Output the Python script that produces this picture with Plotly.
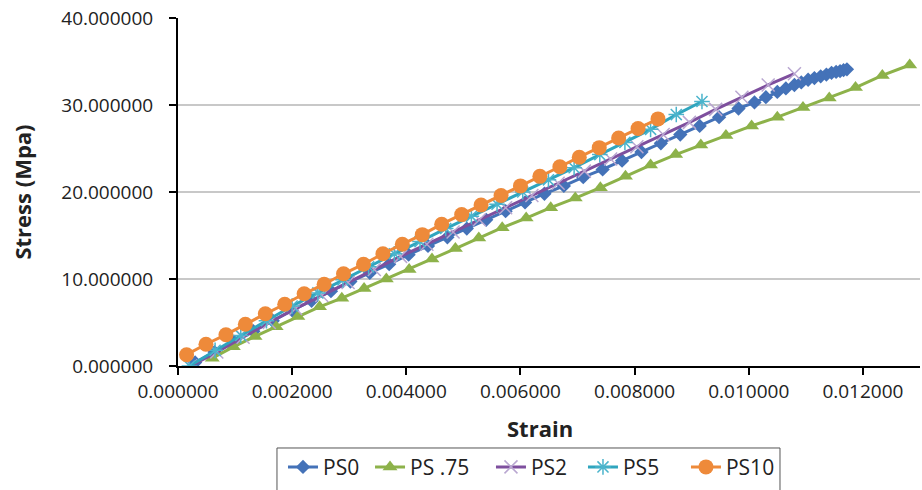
import plotly.graph_objects as go

# ---- data ----
ps0_strain = [0.00030, 0.00064, 0.00098, 0.00132, 0.00166, 0.00200, 0.00234, 0.00268, 0.00302, 0.00336,
              0.00370, 0.00404, 0.00438, 0.00472, 0.00506, 0.00540, 0.00574, 0.00608, 0.00642, 0.00676,
              0.00710, 0.00744, 0.00778, 0.00812, 0.00846, 0.00880, 0.00914, 0.00948, 0.00982, 0.01010,
              0.01030, 0.01050, 0.01065, 0.01080, 0.01092, 0.01104, 0.01115, 0.01126, 0.01136, 0.01145,
              0.01153, 0.01160, 0.01166, 0.01172]
ps0_stress = [0.4, 1.6, 2.8, 4.0, 5.2, 6.4, 7.5, 8.6, 9.7, 10.7,
              11.7, 12.8, 13.8, 14.8, 15.8, 16.8, 17.8, 18.8, 19.8, 20.7,
              21.7, 22.6, 23.6, 24.6, 25.6, 26.6, 27.6, 28.6, 29.6, 30.3,
              30.9, 31.5, 31.9, 32.3, 32.6, 32.9, 33.1, 33.3, 33.5, 33.7,
              33.8, 33.9, 34.0, 34.1]

ps075_strain = [0.00060, 0.00097, 0.00135, 0.00172, 0.00210, 0.00248, 0.00287, 0.00326, 0.00365, 0.00405,
                0.00445, 0.00486, 0.00527, 0.00568, 0.00610, 0.00653, 0.00696, 0.00740, 0.00784, 0.00828,
                0.00872, 0.00916, 0.00960, 0.01005, 0.01050, 0.01095, 0.01141, 0.01187, 0.01234, 0.01282]
ps075_stress = [0.9, 2.2, 3.4, 4.5, 5.7, 6.8, 7.8, 8.9, 10.0, 11.1,
                12.3, 13.5, 14.7, 15.9, 17.0, 18.2, 19.3, 20.5, 21.8, 23.1,
                24.3, 25.4, 26.5, 27.6, 28.6, 29.7, 30.8, 32.0, 33.4, 34.6]

ps2_strain = [0.00022, 0.00068, 0.00114, 0.00160, 0.00206, 0.00252, 0.00298, 0.00344, 0.00390, 0.00436,
              0.00482, 0.00528, 0.00574, 0.00620, 0.00666, 0.00712, 0.00758, 0.00804, 0.00850, 0.00896,
              0.00942, 0.00988, 0.01034, 0.01080]
ps2_stress = [0.0, 1.6, 3.3, 5.0, 6.6, 8.1, 9.6, 11.1, 12.6, 14.0,
              15.4, 16.8, 18.2, 19.6, 21.0, 22.4, 23.8, 25.2, 26.6, 28.0,
              29.5, 30.9, 32.3, 33.6]

ps5_strain = [0.00020, 0.00065, 0.00110, 0.00155, 0.00200, 0.00245, 0.00289, 0.00334, 0.00379, 0.00424,
              0.00469, 0.00514, 0.00559, 0.00604, 0.00649, 0.00694, 0.00739, 0.00783, 0.00828, 0.00873,
              0.00918]
ps5_stress = [0.0, 1.8, 3.5, 5.2, 6.9, 8.4, 9.9, 11.4, 12.9, 14.3,
              15.8, 17.2, 18.6, 20.0, 21.4, 22.8, 24.3, 25.7, 27.2, 28.9,
              30.4]

ps10_strain = [0.00015, 0.00049, 0.00084, 0.00118, 0.00153, 0.00187, 0.00221, 0.00256, 0.00290, 0.00325,
               0.00359, 0.00393, 0.00428, 0.00462, 0.00497, 0.00531, 0.00566, 0.00600, 0.00634, 0.00669,
               0.00703, 0.00738, 0.00772, 0.00806, 0.00841]
ps10_stress = [1.3, 2.5, 3.6, 4.8, 6.0, 7.1, 8.3, 9.4, 10.6, 11.7,
               12.9, 14.0, 15.1, 16.3, 17.4, 18.5, 19.6, 20.7, 21.8, 22.9,
               24.0, 25.1, 26.2, 27.3, 28.4]

x_ticks = [0.0, 0.002, 0.004, 0.006, 0.008, 0.010, 0.012]
y_ticks = [0, 10, 20, 30, 40]

FONT = "Open Sans"

fig = go.Figure()
fig.add_trace(go.Scatter(x=ps0_strain, y=ps0_stress, name="PS0", mode="lines+markers",
                         legend="legend",
                         line=dict(color="#4472B8", width=3),
                         marker=dict(symbol="diamond", size=11, color="#4472B8")))
fig.add_trace(go.Scatter(x=ps075_strain, y=ps075_stress, name="PS .75", mode="lines+markers",
                         legend="legend2",
                         line=dict(color="#8DB24A", width=3),
                         marker=dict(symbol="triangle-up", size=13, color="#8DB24A")))
fig.add_trace(go.Scatter(x=ps2_strain, y=ps2_stress, name="PS2", mode="lines+markers",
                         legend="legend3",
                         line=dict(color="#7E4F9E", width=3),
                         marker=dict(symbol="x-thin-open", size=13, color="#B9A7D1",
                                     line=dict(width=1.5, color="#B9A7D1"))))
fig.add_trace(go.Scatter(x=ps5_strain, y=ps5_stress, name="PS5", mode="lines+markers",
                         legend="legend4",
                         line=dict(color="#2FA5BE", width=3),
                         marker=dict(symbol="asterisk-open", size=13, color="#4BB4CC",
                                     line=dict(width=1.5, color="#4BB4CC"))))
fig.add_trace(go.Scatter(x=ps10_strain, y=ps10_stress, name="PS10", mode="lines+markers",
                         legend="legend5",
                         line=dict(color="#EE8A3A", width=3),
                         marker=dict(symbol="circle", size=15, color="#EE8A3A")))

def leg(xpos):
    return dict(orientation="h", x=xpos, xanchor="left", y=-0.232, yanchor="top",
                borderwidth=0, bgcolor="rgba(0,0,0,0)",
                font=dict(size=21, color="#222"), itemwidth=30)

fig.update_layout(
    width=922, height=490,
    margin=dict(l=178, r=2, t=18, b=124),
    paper_bgcolor="white", plot_bgcolor="white",
    font=dict(family=FONT, size=19, color="#222"),
    legend=leg(0.1415), legend2=leg(0.2588), legend3=leg(0.4218),
    legend4=leg(0.5458), legend5=leg(0.6846),
    showlegend=True,
    shapes=[dict(type="rect", xref="paper", yref="paper", x0=0.1334, x1=0.8113,
                 y0=-0.2356, y1=-0.40, line=dict(color="#555", width=1),
                 fillcolor="rgba(0,0,0,0)", layer="below")],
    annotations=[dict(text="<b>Strain</b>", xref="paper", yref="paper", x=0.488, y=-0.178,
                      xanchor="center", yanchor="middle", showarrow=False,
                      font=dict(size=22, color="#222"))],
)
fig.update_xaxes(range=[0, 0.013], tickvals=x_ticks, tickformat=".6f",
                 showline=True, linecolor="black", linewidth=2,
                 ticks="outside", ticklen=7, tickwidth=2, tickcolor="black",
                 showgrid=False, zeroline=False)
fig.update_yaxes(range=[0, 40], tickvals=y_ticks, tickformat=".6f",
                 showline=True, linecolor="black", linewidth=2,
                 ticks="outside", ticklen=7, tickwidth=2, tickcolor="black",
                 ticklabelstandoff=12,
                 showgrid=True, gridcolor="#C8C8C8", gridwidth=1.5, zeroline=False,
                 title=dict(text="<b>Stress (Mpa)</b>", font=dict(size=22), standoff=24))

fig.write_html("out.html")
